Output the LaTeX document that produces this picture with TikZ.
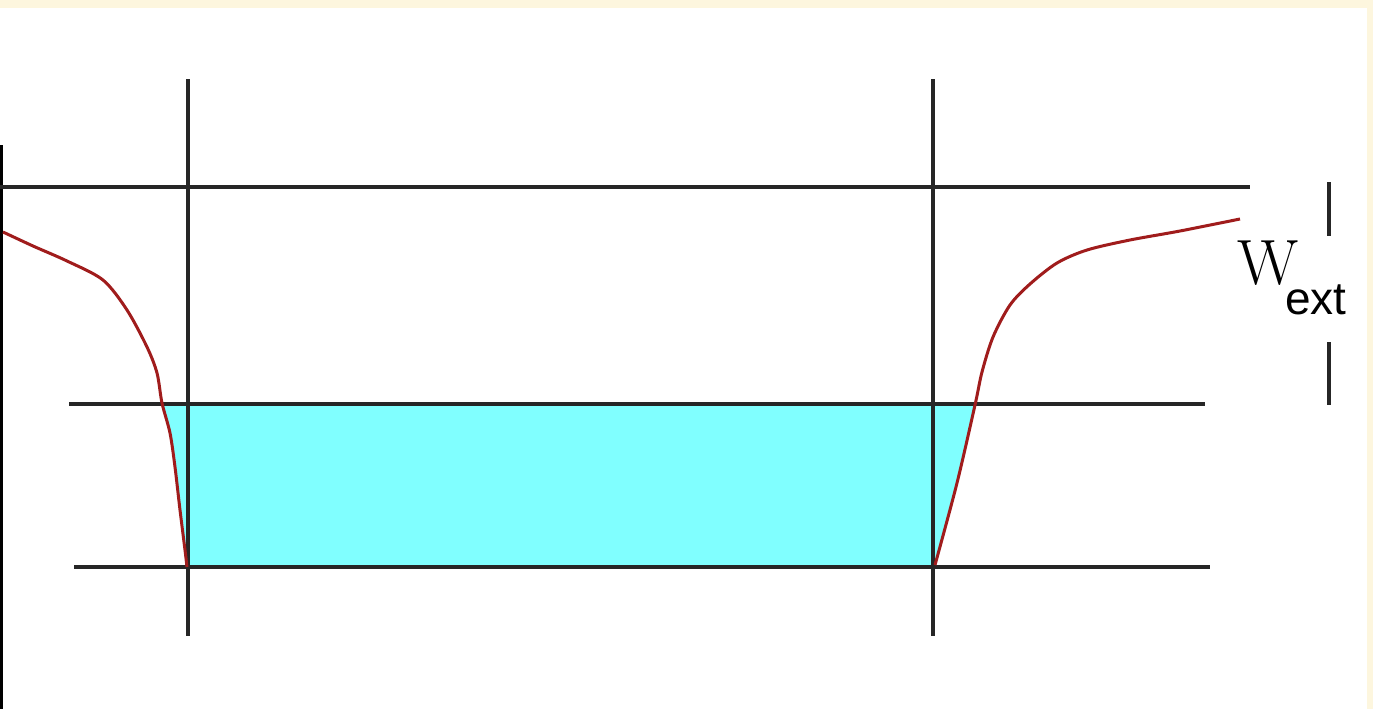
\documentclass[tikz,border=0pt]{standalone}
\usepackage{fontspec}
\newfontfamily\wsans{Liberation Sans}
\definecolor{cyanfill}{HTML}{80FFFF}
\definecolor{curvered}{HTML}{A01C1C}
\definecolor{paneyellow}{HTML}{FDF6DE}
\tikzset{
  gridline/.style={draw=black!85, line width=3.5pt},
  potcurve/.style={draw=curvered, line width=3pt, line join=round},
  barline/.style={draw=black!85, line width=3.5pt},
}
\begin{document}
\begin{tikzpicture}[x=1pt,y=-1pt]
\useasboundingbox (0,0) rectangle (1373,709);
\fill[white] (0,0) rectangle (1373,709);
\fill[paneyellow] (0,0) rectangle (1373,8);
\fill[paneyellow] (1367,0) rectangle (1373,709);
\fill[black] (0,145) rectangle (3,709);
% cyan well region
\fill[cyanfill] (162,404) -- (170,433) -- (175,467) -- (180,510) -- (185,550) -- (187,567)
  -- (935,567) -- (957,483) -- (975,404) -- cycle;
% grid lines
\coordinate (v1t) at (188,79); \coordinate (v1b) at (188,636);
\coordinate (v2t) at (933,79); \coordinate (v2b) at (933,636);
\draw[gridline] (v1t) -- (v1b);
\draw[gridline] (v2t) -- (v2b);
\coordinate (h1l) at (0,187); \coordinate (h1r) at (1250,187);
\coordinate (h2l) at (69,404); \coordinate (h2r) at (1205,404);
\coordinate (h3l) at (74,567); \coordinate (h3r) at (1210,567);
\draw[gridline] (h1l) -- (h1r);
\draw[gridline] (h2l) -- (h2r);
\draw[gridline] (h3l) -- (h3r);
% curves
\draw[potcurve] plot[smooth, tension=0.5] coordinates {(3,232) (33,246) (67,261) (103,280) (127,310) (147,347) (157,373) (162,403) (170,433) (175,467) (180,510) (185,550) (187,567)};
\draw[potcurve] plot[smooth, tension=0.5] coordinates {(935,565) (957,483) (975,405) (982,372) (993,337) (1010,305) (1030,284) (1057,263) (1087,250) (1130,240) (1180,231) (1240,219)};
% Wext marker
\coordinate (b1t) at (1329,182); \coordinate (b1b) at (1329,236);
\coordinate (b2t) at (1329,342); \coordinate (b2b) at (1329,405);
\draw[barline] (b1t) -- (b1b);
\draw[barline] (b2t) -- (b2b);
\node[anchor=base west, inner sep=0pt] (W) at (1237,284) {\rmfamily\fontsize{64}{64}\selectfont W};
\node[anchor=base west, inner sep=0pt] (ext) at (1285,314) {\wsans\fontsize{46}{46}\selectfont ext};
\end{tikzpicture}
\end{document}
